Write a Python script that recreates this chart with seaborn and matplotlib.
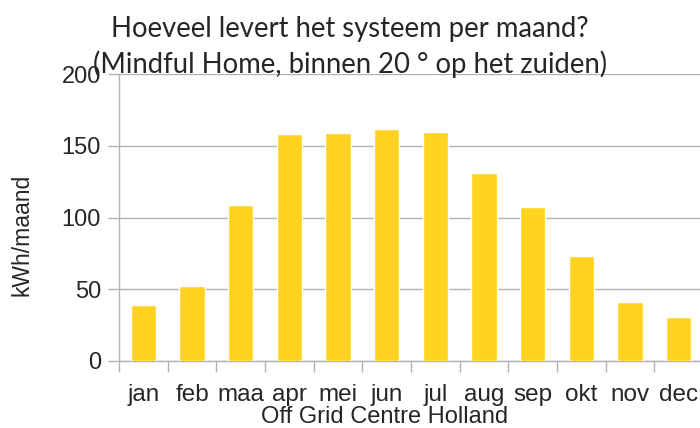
import matplotlib
matplotlib.use('Agg')
import matplotlib.pyplot as plt
import seaborn as sns
import pandas as pd

months = ['jan', 'feb', 'maa', 'apr', 'mei', 'jun', 'jul', 'aug', 'sep', 'okt', 'nov', 'dec']
kwh = [39, 52, 109, 158, 159, 162, 160, 131, 107, 73, 41, 30.5]
yticks = [0, 50, 100, 150, 200]

title_1 = 'Hoeveel levert het systeem per maand?'
title_2 = '(Mindful Home, binnen 20 ° op het zuiden)'
ylabel = 'kWh/maand'
xlabel = 'Off Grid Centre Holland'

sns.set_theme(style='white')
plt.rcParams['font.family'] = ['Liberation Sans', 'DejaVu Sans']

df = pd.DataFrame({'maand': months, 'kwh': kwh})

fig = plt.figure(figsize=(7, 4.28), dpi=100)
ax = fig.add_axes([119 / 700, 1 - 360.7 / 428, 584 / 700, 286.4 / 428])

grid_col = '#b3b3b3'
sns.barplot(data=df, x='maand', y='kwh', color='#ffd320', width=0.52,
            saturation=1, ax=ax, zorder=3)

ax.set_ylim(0, 200)
ax.set_xlim(-0.5, len(months) - 0.5)
ax.set_yticks(yticks)
ax.yaxis.grid(True, color=grid_col, linewidth=1)
ax.set_axisbelow(True)

# ticks between categories, labels centred under the bars
ax.set_xticks([i - 0.5 for i in range(len(months) + 1)])
ax.set_xticklabels([])
ax.set_xticks(range(len(months)), minor=True)
ax.set_xticklabels(months, minor=True, fontsize=17.5)
ax.tick_params(axis='x', which='major', length=8, width=1, color=grid_col, bottom=True)
ax.tick_params(axis='x', which='minor', length=0, pad=16.5)
ax.tick_params(axis='y', length=8, width=1, color=grid_col, left=True, pad=5, labelsize=17)

for side in ['top', 'right']:
    ax.spines[side].set_visible(False)
for side in ['left', 'bottom']:
    ax.spines[side].set_color(grid_col)
    ax.spines[side].set_linewidth(1)

ax.set_xlabel('')
ax.set_ylabel('')
fig.text(22.5 / 700, 1 - 234.5 / 428, ylabel, rotation=90, ha='center', va='center', fontsize=16.5)

fig.text(385 / 700, 1 - 423 / 428, xlabel, ha='center', va='baseline', fontsize=17)
fig.text(0.5, 1 - 37 / 428, title_1, ha='center', va='baseline', fontsize=19.8, family=['Lato', 'DejaVu Sans'])
fig.text(0.5, 1 - 73 / 428, title_2, ha='center', va='baseline', fontsize=19.8, family=['Lato', 'DejaVu Sans'])

fig.savefig('out.png', dpi=100)
